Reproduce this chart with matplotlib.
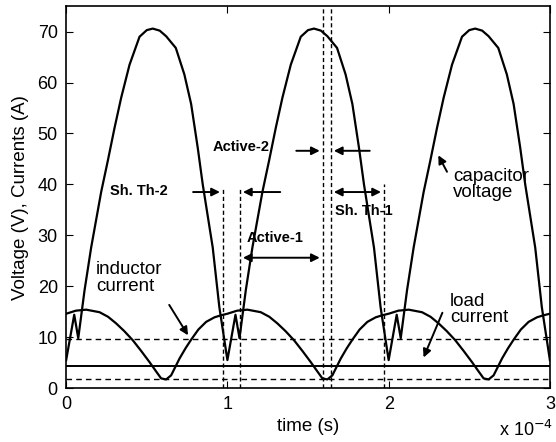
import matplotlib.pyplot as plt

plt.rcParams['font.family'] = ['Liberation Sans', 'DejaVu Sans']

# one cycle of capacitor voltage (time in units of 1e-4 s, relative to cycle start)
cap_t = [0.0, 0.05, 0.075, 0.114, 0.155, 0.217, 0.258, 0.30, 0.341, 0.393, 0.455, 0.50,
         0.537, 0.58, 0.62, 0.68, 0.733, 0.775, 0.816, 0.847, 0.909, 0.95]
cap_v = [5.5, 14.4, 9.8, 19.2, 27.6, 38.5, 44.6, 51.1, 57.0, 63.5, 69.0, 70.3,
         70.6, 70.2, 69.1, 66.8, 61.6, 55.8, 47.2, 40.0, 27.6, 15.9]
cycle_start = [0, 1, 2]
cap_end = (3.0, 5.5)

# one cycle of inductor current
ind_t = [0.0, 0.06, 0.124, 0.207, 0.26, 0.31, 0.36, 0.413, 0.465, 0.517, 0.555, 0.589,
         0.62, 0.651, 0.703, 0.74, 0.775, 0.82, 0.868, 0.92, 0.961]
ind_i = [14.6, 15.2, 15.4, 14.9, 14.0, 12.7, 11.2, 9.4, 7.3, 5.1, 3.4, 1.9,
         1.7, 2.5, 5.8, 7.8, 9.5, 11.5, 13.0, 13.9, 14.3]

load_current = 4.3
hlines_dashed = [9.7, 1.8]
# vertical markers: (x, top)
vlines = [(0.971, 39.5), (1.079, 39.5), (1.59, 75), (1.643, 75), (1.97, 40)]

fig = plt.figure(figsize=(5.56, 4.42), dpi=100)
ax = fig.add_axes([0.119, 0.122, 0.870, 0.864])

ct, cv, it, iv = [], [], [], []
for s in cycle_start:
    ct += [s + t for t in cap_t]
    cv += cap_v
    it += [s + t for t in ind_t]
    iv += ind_i
ct.append(cap_end[0]); cv.append(cap_end[1])
it.append(3.0); iv.append(ind_i[0])

ax.plot(ct, cv, color='black', lw=1.6)
ax.plot(it, iv, color='black', lw=1.6)
ax.axhline(load_current, color='black', lw=1.4)
for y in hlines_dashed:
    ax.axhline(y, color='black', lw=1.0, ls='--', dashes=(4, 3))
for x, top in vlines:
    ax.plot([x, x], [0, top], color='black', lw=1.0, ls='--', dashes=(3, 2))

arr = dict(arrowstyle='-|>', color='black', lw=1.4, mutation_scale=12)
arr2 = dict(arrowstyle='<|-|>', color='black', lw=1.4, mutation_scale=12)
bold = dict(fontsize=10.5, fontweight='bold')

# Sh. Th-2
ax.annotate('', xy=(0.971, 38.5), xytext=(0.77, 38.5), arrowprops=arr)
ax.annotate('', xy=(1.079, 38.5), xytext=(1.345, 38.5), arrowprops=arr)
ax.text(0.63, 38.8, 'Sh. Th-2', ha='right', va='center', **bold)
# Active-2
ax.annotate('', xy=(1.59, 46.6), xytext=(1.41, 46.6), arrowprops=arr)
ax.annotate('', xy=(1.643, 46.6), xytext=(1.90, 46.6), arrowprops=arr)
ax.text(1.265, 47.3, 'Active-2', ha='right', va='center', **bold)
# Active-1
ax.annotate('', xy=(1.59, 25.6), xytext=(1.079, 25.6), arrowprops=arr2)
ax.text(1.12, 29.4, 'Active-1', ha='left', va='center', **bold)
# Sh. Th-1
ax.annotate('', xy=(1.97, 38.5), xytext=(1.643, 38.5), arrowprops=arr2)
ax.text(1.668, 34.8, 'Sh. Th-1', ha='left', va='center', **bold)

# curve labels
ax.annotate('', xy=(2.30, 46.2), xytext=(2.37, 42.0), arrowprops=arr)
ax.text(2.40, 40.0, 'capacitor\nvoltage', ha='left', va='center', fontsize=13.5, linespacing=0.95)
ax.annotate('', xy=(0.765, 9.9), xytext=(0.63, 16.8), arrowprops=arr)
ax.text(0.186, 21.6, 'inductor\ncurrent', ha='left', va='center', fontsize=13.5, linespacing=0.95)
ax.annotate('', xy=(2.21, 5.5), xytext=(2.34, 15.3), arrowprops=arr)
ax.text(2.38, 15.4, 'load\ncurrent', ha='left', va='center', fontsize=13.5, linespacing=0.95)

ax.set_xlim(0, 3)
ax.set_ylim(0, 75)
ax.set_xticks([0, 1, 2, 3])
ax.set_yticks(range(0, 71, 10))
ax.tick_params(direction='in', top=True, right=True, labelsize=13, length=5, pad=6)
for sp in ax.spines.values():
    sp.set_linewidth(1.2)
ax.set_xlabel('time (s)', fontsize=13.5, labelpad=3)
ax.set_ylabel('Voltage (V), Currents (A)', fontsize=13.5, labelpad=6)
fig.text(0.995, 0.005, r'x 10$^{-4}$', ha='right', va='bottom', fontsize=13)

fig.savefig('out.png', dpi=100)
